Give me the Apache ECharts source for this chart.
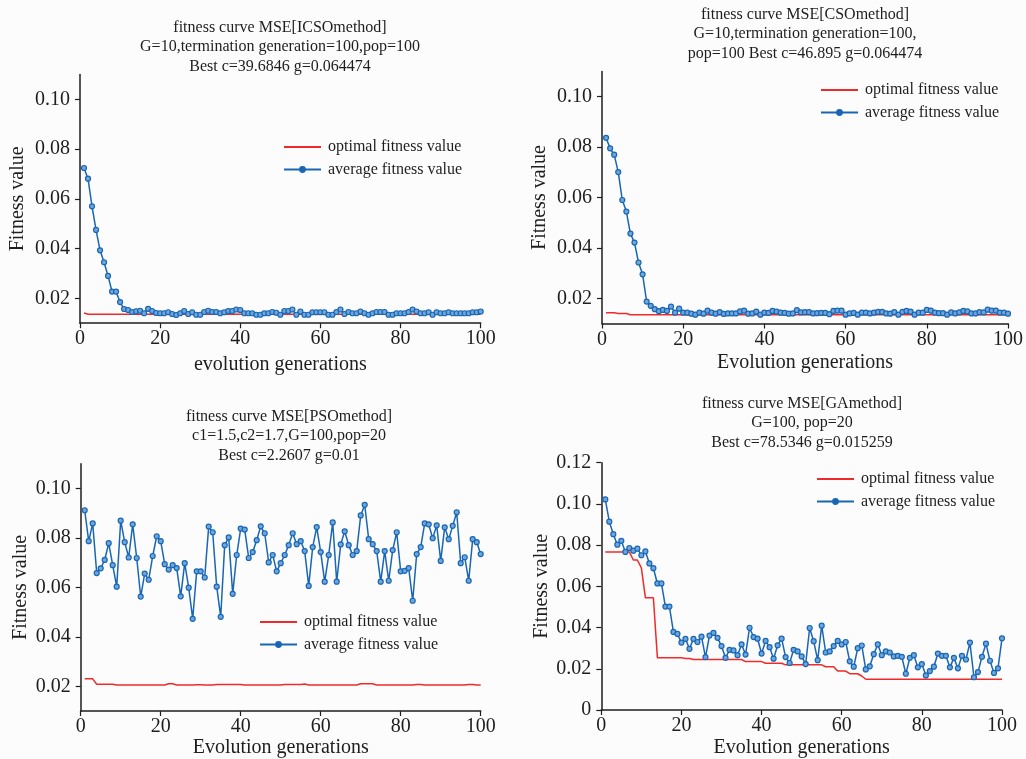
<!DOCTYPE html>
<html>
<head>
<meta charset="utf-8">
<script src="https://cdn.jsdelivr.net/npm/echarts@6/dist/echarts.min.js"></script>
<style>
  html, body { margin: 0; padding: 0; background: #fcfcfc; }
  #chart { width: 1026px; height: 759px; }
</style>
</head>
<body>
<div id="chart"></div>
<script>
// generation numbers on the x axis
const generations = Array.from({ length: 100 }, (_, i) => i + 1);
const xTicks = [0, 20, 40, 60, 80, 100];
const yTicksSmall = [0.02, 0.04, 0.06, 0.08, 0.10];

// ICSO
const icsoAvg = [
  0.0724, 0.0681, 0.0570, 0.0475, 0.0393, 0.0345, 0.0290, 0.0227, 0.0227, 0.0185,
  0.0157, 0.0153, 0.0145, 0.0148, 0.0150, 0.0140, 0.0158, 0.0149, 0.0141, 0.0140,
  0.0140, 0.0144, 0.0137, 0.0133, 0.0140, 0.0149, 0.0137, 0.0144, 0.0134, 0.0134,
  0.0145, 0.0150, 0.0145, 0.0145, 0.0140, 0.0144, 0.0149, 0.0149, 0.0155, 0.0153,
  0.0140, 0.0140, 0.0140, 0.0134, 0.0134, 0.0140, 0.0140, 0.0145, 0.0142, 0.0134,
  0.0149, 0.0149, 0.0155, 0.0134, 0.0147, 0.0134, 0.0134, 0.0144, 0.0144, 0.0144,
  0.0144, 0.0134, 0.0134, 0.0145, 0.0155, 0.0137, 0.0145, 0.0140, 0.0140, 0.0147,
  0.0140, 0.0134, 0.0140, 0.0145, 0.0145, 0.0145, 0.0134, 0.0134, 0.0140, 0.0140,
  0.0140, 0.0145, 0.0155, 0.0147, 0.0140, 0.0140, 0.0144, 0.0134, 0.0144, 0.0140,
  0.0140, 0.0144, 0.0140, 0.0140, 0.0140, 0.0140, 0.0140, 0.0144, 0.0144, 0.0147
];
const icsoBest = [
  0.0141, 0.0136, 0.0136, 0.0136, 0.0136, 0.0136, 0.0136, 0.0136, 0.0136, 0.0136,
  0.0136, 0.0136, 0.0136, 0.0136, 0.0136, 0.0136, 0.0136, 0.0136, 0.0136, 0.0136,
  0.0136, 0.0136, 0.0136, 0.0136, 0.0136, 0.0136, 0.0136, 0.0136, 0.0136, 0.0136,
  0.0136, 0.0136, 0.0136, 0.0136, 0.0136, 0.0136, 0.0136, 0.0136, 0.0136, 0.0136,
  0.0136, 0.0136, 0.0136, 0.0136, 0.0136, 0.0136, 0.0136, 0.0136, 0.0136, 0.0136,
  0.0136, 0.0136, 0.0136, 0.0136, 0.0136, 0.0136, 0.0136, 0.0136, 0.0136, 0.0136,
  0.0136, 0.0136, 0.0136, 0.0136, 0.0136, 0.0136, 0.0136, 0.0136, 0.0136, 0.0136,
  0.0136, 0.0136, 0.0136, 0.0136, 0.0136, 0.0136, 0.0136, 0.0136, 0.0136, 0.0136,
  0.0136, 0.0136, 0.0136, 0.0136, 0.0136, 0.0136, 0.0136, 0.0136, 0.0136, 0.0136,
  0.0136, 0.0136, 0.0136, 0.0136, 0.0136, 0.0136, 0.0136, 0.0136, 0.0136, 0.0136
];

// CSO
const csoAvg = [
  0.0837, 0.0795, 0.0770, 0.0701, 0.0590, 0.0544, 0.0457, 0.0421, 0.0342, 0.0295,
  0.0187, 0.0170, 0.0157, 0.0149, 0.0154, 0.0150, 0.0167, 0.0143, 0.0159, 0.0143,
  0.0143, 0.0139, 0.0135, 0.0143, 0.0139, 0.0151, 0.0143, 0.0139, 0.0145, 0.0138,
  0.0140, 0.0140, 0.0140, 0.0148, 0.0151, 0.0139, 0.0140, 0.0147, 0.0135, 0.0143,
  0.0142, 0.0150, 0.0147, 0.0143, 0.0142, 0.0139, 0.0140, 0.0153, 0.0144, 0.0145,
  0.0145, 0.0140, 0.0141, 0.0142, 0.0142, 0.0137, 0.0150, 0.0151, 0.0151, 0.0135,
  0.0140, 0.0142, 0.0135, 0.0143, 0.0143, 0.0140, 0.0143, 0.0146, 0.0146, 0.0140,
  0.0139, 0.0145, 0.0135, 0.0146, 0.0150, 0.0147, 0.0135, 0.0143, 0.0143, 0.0154,
  0.0151, 0.0143, 0.0141, 0.0141, 0.0135, 0.0144, 0.0140, 0.0144, 0.0150, 0.0148,
  0.0140, 0.0140, 0.0145, 0.0144, 0.0155, 0.0151, 0.0151, 0.0143, 0.0143, 0.0139
];
const csoBest = [
  0.0143, 0.0143, 0.0143, 0.0140, 0.0140, 0.0140, 0.0135, 0.0135, 0.0135, 0.0135,
  0.0135, 0.0135, 0.0135, 0.0135, 0.0135, 0.0135, 0.0135, 0.0135, 0.0135, 0.0135,
  0.0135, 0.0135, 0.0135, 0.0135, 0.0135, 0.0135, 0.0135, 0.0135, 0.0135, 0.0135,
  0.0135, 0.0135, 0.0135, 0.0135, 0.0135, 0.0135, 0.0135, 0.0135, 0.0135, 0.0135,
  0.0135, 0.0135, 0.0135, 0.0135, 0.0135, 0.0135, 0.0135, 0.0135, 0.0135, 0.0135,
  0.0135, 0.0135, 0.0135, 0.0135, 0.0135, 0.0135, 0.0135, 0.0135, 0.0135, 0.0135,
  0.0135, 0.0135, 0.0135, 0.0135, 0.0135, 0.0135, 0.0135, 0.0135, 0.0135, 0.0135,
  0.0135, 0.0135, 0.0135, 0.0135, 0.0135, 0.0135, 0.0135, 0.0135, 0.0135, 0.0135,
  0.0135, 0.0135, 0.0135, 0.0135, 0.0135, 0.0135, 0.0135, 0.0135, 0.0135, 0.0135,
  0.0135, 0.0135, 0.0135, 0.0135, 0.0135, 0.0135, 0.0135, 0.0135, 0.0135, 0.0135
];

// PSO
const psoAvg = [
  0.0912, 0.0787, 0.0859, 0.0658, 0.0677, 0.0711, 0.0779, 0.0690, 0.0603, 0.0870,
  0.0783, 0.0721, 0.0855, 0.0719, 0.0563, 0.0656, 0.0631, 0.0727, 0.0807, 0.0787,
  0.0694, 0.0672, 0.0690, 0.0678, 0.0564, 0.0698, 0.0599, 0.0473, 0.0665, 0.0665,
  0.0640, 0.0846, 0.0823, 0.0603, 0.0481, 0.0771, 0.0802, 0.0574, 0.0731, 0.0838,
  0.0834, 0.0719, 0.0743, 0.0791, 0.0847, 0.0819, 0.0701, 0.0731, 0.0665, 0.0698,
  0.0731, 0.0771, 0.0819, 0.0775, 0.0787, 0.0747, 0.0606, 0.0763, 0.0844, 0.0743,
  0.0623, 0.0731, 0.0863, 0.0623, 0.0774, 0.0827, 0.0771, 0.0731, 0.0747, 0.0891,
  0.0934, 0.0795, 0.0775, 0.0747, 0.0623, 0.0747, 0.0627, 0.0751, 0.0823, 0.0665,
  0.0667, 0.0678, 0.0546, 0.0735, 0.0763, 0.0859, 0.0855, 0.0799, 0.0851, 0.0707,
  0.0843, 0.0795, 0.0849, 0.0904, 0.0698, 0.0722, 0.0627, 0.0795, 0.0783, 0.0735
];
const psoBest = [
  0.0230, 0.0230, 0.0230, 0.0208, 0.0208, 0.0208, 0.0208, 0.0208, 0.0205, 0.0205,
  0.0205, 0.0205, 0.0205, 0.0205, 0.0205, 0.0205, 0.0205, 0.0205, 0.0205, 0.0205,
  0.0205, 0.0210, 0.0210, 0.0205, 0.0205, 0.0205, 0.0205, 0.0205, 0.0206, 0.0206,
  0.0205, 0.0205, 0.0205, 0.0207, 0.0207, 0.0207, 0.0207, 0.0207, 0.0207, 0.0207,
  0.0205, 0.0205, 0.0205, 0.0205, 0.0205, 0.0205, 0.0205, 0.0205, 0.0205, 0.0205,
  0.0207, 0.0207, 0.0207, 0.0207, 0.0207, 0.0209, 0.0205, 0.0205, 0.0205, 0.0205,
  0.0205, 0.0205, 0.0205, 0.0205, 0.0205, 0.0205, 0.0205, 0.0205, 0.0205, 0.0210,
  0.0210, 0.0210, 0.0210, 0.0205, 0.0205, 0.0205, 0.0205, 0.0205, 0.0205, 0.0205,
  0.0205, 0.0205, 0.0205, 0.0207, 0.0207, 0.0205, 0.0205, 0.0205, 0.0205, 0.0205,
  0.0205, 0.0205, 0.0205, 0.0205, 0.0205, 0.0205, 0.0207, 0.0207, 0.0205, 0.0205
];

// GA
const gaAvg = [
  0.1022, 0.0914, 0.0853, 0.0802, 0.0821, 0.0767, 0.0786, 0.0773, 0.0783, 0.0751,
  0.0770, 0.0711, 0.0688, 0.0614, 0.0614, 0.0502, 0.0502, 0.0379, 0.0369, 0.0327,
  0.0345, 0.0297, 0.0345, 0.0330, 0.0356, 0.0257, 0.0361, 0.0374, 0.0350, 0.0310,
  0.0253, 0.0292, 0.0289, 0.0266, 0.0318, 0.0269, 0.0399, 0.0354, 0.0346, 0.0274,
  0.0335, 0.0305, 0.0249, 0.0314, 0.0346, 0.0257, 0.0228, 0.0292, 0.0284, 0.0260,
  0.0223, 0.0398, 0.0334, 0.0242, 0.0409, 0.0279, 0.0284, 0.0310, 0.0335, 0.0318,
  0.0330, 0.0236, 0.0210, 0.0300, 0.0313, 0.0197, 0.0212, 0.0271, 0.0318, 0.0266,
  0.0284, 0.0279, 0.0260, 0.0263, 0.0258, 0.0176, 0.0253, 0.0266, 0.0207, 0.0223,
  0.0168, 0.0189, 0.0210, 0.0274, 0.0263, 0.0263, 0.0207, 0.0253, 0.0202, 0.0263,
  0.0245, 0.0327, 0.0159, 0.0184, 0.0258, 0.0322, 0.0239, 0.0180, 0.0202, 0.0348
];
const gaBest = [
  0.0767, 0.0767, 0.0767, 0.0767, 0.0767, 0.0767, 0.0767, 0.0728, 0.0728, 0.0690,
  0.0545, 0.0545, 0.0545, 0.0253, 0.0253, 0.0253, 0.0253, 0.0253, 0.0253, 0.0253,
  0.0250, 0.0250, 0.0245, 0.0245, 0.0245, 0.0245, 0.0245, 0.0245, 0.0245, 0.0245,
  0.0245, 0.0245, 0.0245, 0.0245, 0.0245, 0.0235, 0.0235, 0.0235, 0.0235, 0.0235,
  0.0227, 0.0227, 0.0227, 0.0227, 0.0227, 0.0219, 0.0219, 0.0219, 0.0219, 0.0219,
  0.0219, 0.0219, 0.0219, 0.0219, 0.0219, 0.0210, 0.0210, 0.0210, 0.0189, 0.0189,
  0.0189, 0.0176, 0.0176, 0.0176, 0.0165, 0.0149, 0.0149, 0.0149, 0.0149, 0.0149,
  0.0149, 0.0149, 0.0149, 0.0149, 0.0149, 0.0149, 0.0149, 0.0149, 0.0149, 0.0149,
  0.0149, 0.0149, 0.0149, 0.0149, 0.0149, 0.0149, 0.0149, 0.0149, 0.0149, 0.0149,
  0.0149, 0.0149, 0.0149, 0.0149, 0.0149, 0.0149, 0.0149, 0.0149, 0.0149, 0.0149
];

const FONT = '"Liberation Serif", "Times New Roman", serif';
const INK = '#1e1e1e';
const BLUE = '#1866b4';
const RED = '#f02a2a';

// layout per panel (pixels)
const panels = [
  { title: 'fitness curve MSE[ICSOmethod]\nG=10,termination generation=100,pop=100\nBest c=39.6846 g=0.064474',
    tx: 280, ty: 18, grid: [80, 74.5, 400.7, 248.7], xName: 'evolution generations', xGap: 32,
    yMin: 0.01, yMax: 0.11, yTicks: yTicksSmall, yGap: 52, leg: [283, 139],
    avg: icsoAvg, best: icsoBest },
  { title: 'fitness curve MSE[CSOmethod]\nG=10,termination generation=100,\npop=100 Best c=46.895 g=0.064474',
    tx: 805, ty: 5, grid: [602, 71.5, 406.5, 252], xName: 'Evolution generations', xGap: 29,
    yMin: 0.01, yMax: 0.11, yTicks: yTicksSmall, yGap: 52, leg: [820, 82],
    avg: csoAvg, best: csoBest },
  { title: 'fitness curve MSE[PSOmethod]\nc1=1.5,c2=1.7,G=100,pop=20\nBest c=2.2607 g=0.01',
    tx: 289, ty: 407, grid: [80.7, 463.8, 400, 248.8], xName: 'Evolution generations', xGap: 27,
    yMin: 0.01, yMax: 0.11, yTicks: yTicksSmall, yGap: 50, leg: [259, 614],
    avg: psoAvg, best: psoBest },
  { title: 'fitness curve MSE[GAmethod]\nG=100, pop=20\nBest c=78.5346 g=0.015259',
    tx: 802, ty: 394, grid: [601.3, 462.7, 400.7, 249.3], xName: 'Evolution generations', xGap: 28,
    yMin: 0, yMax: 0.12, yTicks: [0, 0.02, 0.04, 0.06, 0.08, 0.10, 0.12], yGap: 50, leg: [816, 471],
    avg: gaAvg, best: gaBest }
];

const axisLine = { show: true, lineStyle: { color: INK, width: 1.5 } };
const axisTick = { show: true, inside: false, length: 5, lineStyle: { color: INK, width: 1.2 } };

const option = {
  backgroundColor: '#fcfcfc',
  animation: false,
  title: [], grid: [], xAxis: [], yAxis: [], legend: [], series: []
};

panels.forEach((p, i) => {
  option.title.push({
    text: p.title, left: p.tx, top: p.ty, textAlign: 'center', padding: 0,
    textStyle: { fontFamily: FONT, fontSize: 16, fontWeight: 'normal', color: INK, lineHeight: 19.5 }
  });
  option.grid.push({ left: p.grid[0], top: p.grid[1], width: p.grid[2], height: p.grid[3] });
  option.xAxis.push({
    type: 'value', gridIndex: i, min: 0, max: 100, interval: 20,
    name: p.xName, nameLocation: 'middle', nameGap: p.xGap, nameMoveOverlap: false,
    nameTextStyle: { fontFamily: FONT, fontSize: 20, color: INK },
    axisLine, axisTick, splitLine: { show: false },
    axisLabel: { fontFamily: FONT, fontSize: 20, color: INK, margin: 6, customValues: xTicks }
  });
  option.yAxis.push({
    type: 'value', gridIndex: i, min: p.yMin, max: p.yMax,
    name: 'Fitness value', nameLocation: 'middle', nameGap: p.yGap, nameRotate: 90, nameMoveOverlap: false,
    nameTextStyle: { fontFamily: FONT, fontSize: 20, color: INK },
    axisLine, splitLine: { show: false },
    axisTick: Object.assign({}, axisTick, { customValues: p.yTicks }),
    axisLabel: {
      fontFamily: FONT, fontSize: 20, color: INK, margin: 10, customValues: p.yTicks,
      formatter: v => (v === 0 ? '0' : v.toFixed(2))
    }
  });
  option.legend.push({
    orient: 'vertical', left: p.leg[0], top: p.leg[1], padding: 0,
    itemWidth: 37, itemHeight: 6, itemGap: 6.5, selectedMode: false,
    data: [
      { name: 'optimal fitness value', itemStyle: { opacity: 0 } },
      { name: 'average fitness value', itemStyle: { color: BLUE } }
    ],
    textStyle: { fontFamily: FONT, fontSize: 16, color: INK, lineHeight: 16, padding: [0, 0, 0, 2] }
  });
  option.series.push({
    name: 'optimal fitness value', type: 'line', xAxisIndex: i, yAxisIndex: i,
    data: generations.map((g, k) => [g, p.best[k]]),
    symbol: 'none', lineStyle: { color: RED, width: 1.5 }, itemStyle: { color: RED }, z: 2
  });
  option.series.push({
    name: 'average fitness value', type: 'line', xAxisIndex: i, yAxisIndex: i,
    data: generations.map((g, k) => [g, p.avg[k]]),
    symbol: 'circle', symbolSize: 5, showAllSymbol: true,
    lineStyle: { color: BLUE, width: 1.5 },
    itemStyle: { color: '#6ea6dc', borderColor: BLUE, borderWidth: 1.2 }, z: 3
  });
});

const chart = echarts.init(document.getElementById('chart'));
chart.setOption(option);
window.addEventListener('resize', () => chart.resize());
</script>
</body>
</html>
